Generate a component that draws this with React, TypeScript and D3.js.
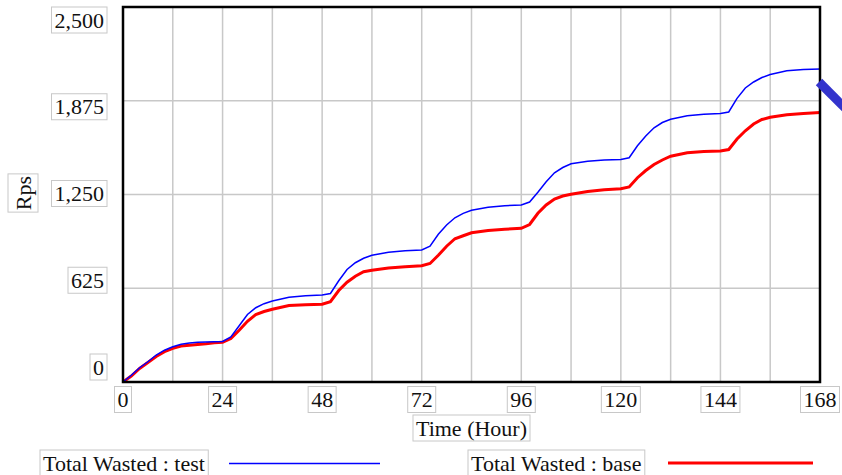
import React from 'react';
import * as d3 from 'd3';

const hours = [0, 2, 4, 6, 8, 10, 12, 14, 16, 18, 20, 22, 24, 26, 28, 30, 32, 34, 36, 40, 44, 48, 50, 52, 54, 56, 58, 60, 64, 68, 72, 74, 76, 78, 80, 82, 84, 88, 92, 96, 98, 100, 102, 104, 106, 108, 112, 116, 120, 122, 124, 126, 128, 130, 132, 136, 140, 144, 146, 148, 150, 152, 154, 156, 160, 164, 168];

const testValues = [0, 45, 95, 135, 180, 212, 235, 252, 260, 265, 267, 268, 270, 300, 375, 450, 495, 522, 540, 565, 575, 580, 590, 675, 750, 795, 825, 845, 865, 875, 880, 905, 985, 1047, 1095, 1124, 1145, 1165, 1175, 1180, 1200, 1265, 1335, 1395, 1430, 1455, 1472, 1480, 1484, 1495, 1575, 1640, 1695, 1730, 1752, 1775, 1785, 1790, 1800, 1891, 1960, 2000, 2030, 2050, 2075, 2084, 2087];

const baseValues = [0, 40, 90, 130, 170, 202, 225, 240, 245, 250, 255, 262, 265, 290, 345, 405, 450, 470, 485, 510, 515, 518, 535, 610, 665, 705, 735, 745, 760, 768, 775, 790, 845, 905, 955, 975, 995, 1010, 1018, 1025, 1050, 1125, 1180, 1220, 1240, 1252, 1270, 1282, 1288, 1300, 1362, 1410, 1450, 1480, 1505, 1528, 1536, 1540, 1550, 1620, 1675, 1720, 1750, 1765, 1782, 1790, 1796];

const yTicks = [0, 625, 1250, 1875, 2500];
const xTicks = [0, 24, 48, 72, 96, 120, 144, 168];
const xGrid = d3.range(0, 169, 12);

const FONT = "'Liberation Serif', 'Times New Roman', serif";
const FS = 22;

const measure = (() => {
  let ctx: CanvasRenderingContext2D | null = null;
  return (s: string) => {
    if (!ctx) ctx = document.createElement('canvas').getContext('2d');
    if (!ctx) return s.length * FS * 0.5;
    ctx.font = `${FS}px ${FONT}`;
    return ctx.measureText(s).width;
  };
})();

// text with the light grey frame that every label in the original has
const BoxText = ({ text, x, cy, anchor = 'middle' }: { text: string; x: number; cy: number; anchor?: string }) => {
  const w = measure(text);
  const left = anchor === 'end' ? x - w : anchor === 'start' ? x : x - w / 2;
  return (
    <g>
      <rect x={left - 3} y={cy - 13} width={w + 6} height={26} fill="#fff" stroke="#c8c8c8" strokeWidth={1} />
      <text x={left} y={cy + 7.5} fontFamily={FONT} fontSize={FS} fill="#111">
        {text}
      </text>
    </g>
  );
};

const App = () => {
  const x = d3.scaleLinear().domain([0, 168]).range([123, 820]);
  const y = d3.scaleLinear().domain([0, 2500]).range([382, 7]);
  const yLabel = d3.scaleLinear().domain([0, 2500]).range([367, 20]);
  const fmt = d3.format(',');

  const line = d3
    .line<number>()
    .x((_, i) => x(hours[i]))
    .y(d => y(d))
    .curve(d3.curveLinear);

  const rpsW = measure('Rps');

  return (
    <div style={{ position: 'absolute', left: 0, top: 0 }}>
      <svg width={842} height={475} style={{ display: 'block', background: '#fff' }}>
        {xGrid.map(h => (
          <line key={`gx${h}`} x1={x(h)} x2={x(h)} y1={y(2500)} y2={y(0)} stroke="#c8c8c8" strokeWidth={1.5} />
        ))}
        {yTicks.map(v => (
          <line key={`gy${v}`} x1={x(0)} x2={x(168)} y1={y(v)} y2={y(v)} stroke="#c8c8c8" strokeWidth={1.5} />
        ))}

        <path d={line(baseValues) || ''} fill="none" stroke="#ff0000" strokeWidth={3} />
        <path d={line(testValues) || ''} fill="none" stroke="#0000ff" strokeWidth={1.5} />

        <rect x={x(0)} y={y(2500)} width={x(168) - x(0)} height={y(0) - y(2500)} fill="none" stroke="#000" strokeWidth={2.5} />

        <line x1={819} y1={82} x2={846} y2={109} stroke="#3333cc" strokeWidth={9} />

        {yTicks.map(v => (
          <BoxText key={`yl${v}`} text={fmt(v)} x={104} cy={yLabel(v)} anchor="end" />
        ))}
        {xTicks.map(h => (
          <BoxText key={`xl${h}`} text={String(h)} x={x(h)} cy={399.5} />
        ))}

        <BoxText text="Time (Hour)" x={(x(0) + x(168)) / 2} cy={428} />

        <g transform="translate(23,193) rotate(-90)">
          <rect x={-rpsW / 2 - 2} y={-15} width={rpsW + 4} height={30} fill="#fff" stroke="#c8c8c8" strokeWidth={1} />
          <text x={0} y={7.5} textAnchor="middle" fontFamily={FONT} fontSize={FS} fill="#111">
            Rps
          </text>
        </g>

        <BoxText text="Total Wasted : test" x={43} cy={463} anchor="start" />
        <line x1={229} x2={380} y1={463.5} y2={463.5} stroke="#0000ff" strokeWidth={1.5} />
        <BoxText text="Total Wasted : base" x={471} cy={463} anchor="start" />
        <line x1={668} x2={813} y1={463} y2={463} stroke="#ff0000" strokeWidth={3} />
      </svg>
    </div>
  );
};

export default App;
